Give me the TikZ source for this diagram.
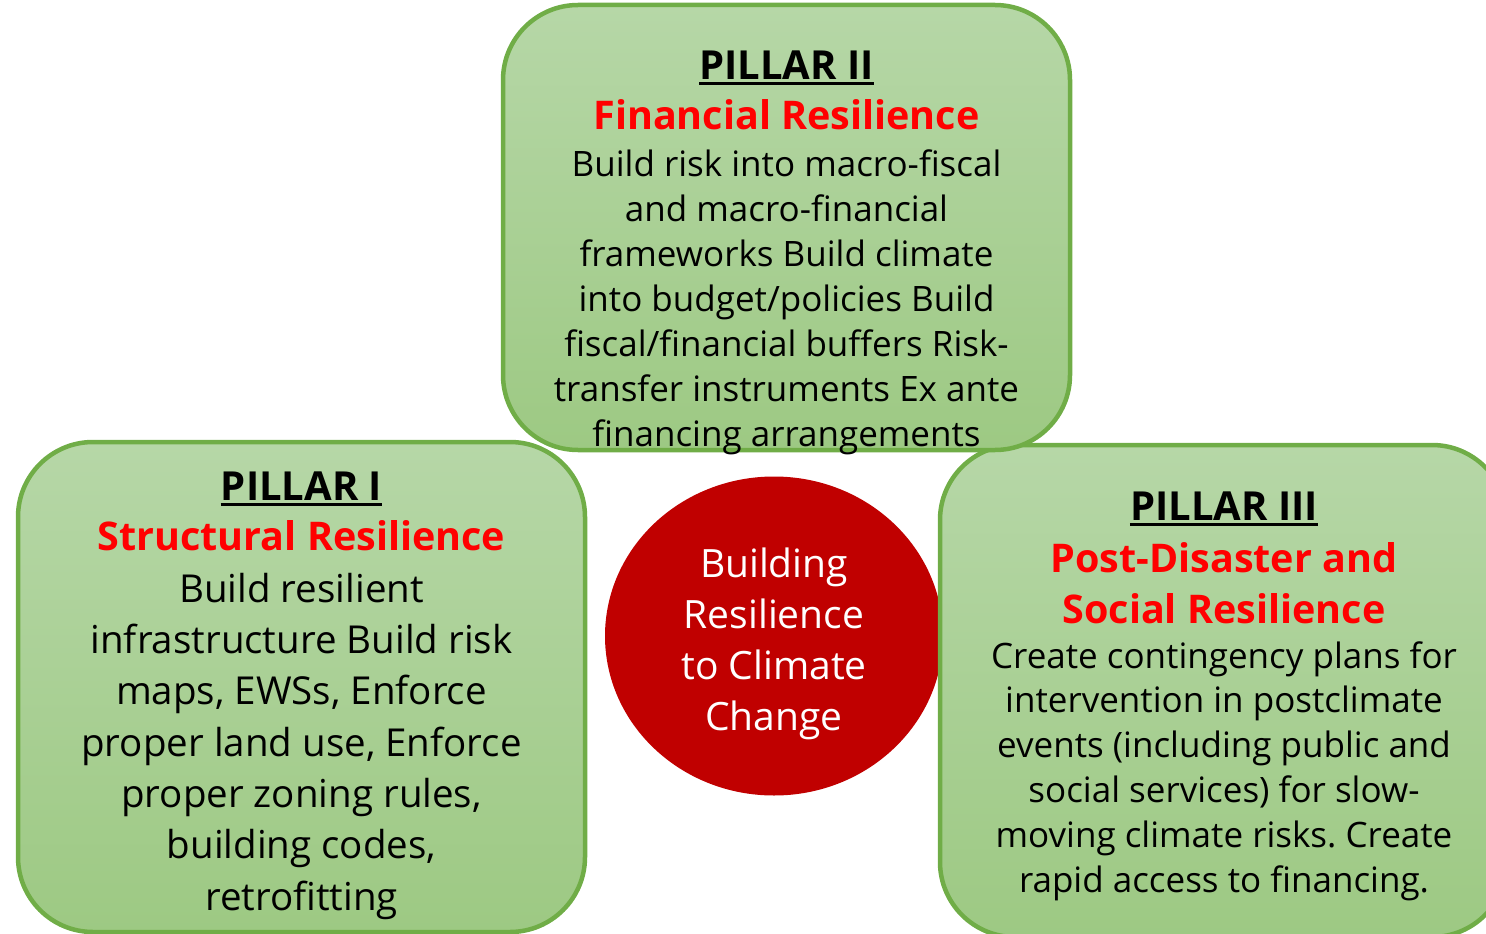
\documentclass[tikz,border=0pt]{standalone}
\usepackage{fontspec}
\setmainfont{Open Sans}
\frenchspacing
\definecolor{pillargreen}{RGB}{112,173,71}
\definecolor{pillartop}{RGB}{182,215,167}
\definecolor{pillarbottom}{RGB}{157,201,131}
\definecolor{coredred}{RGB}{192,0,0}
\definecolor{headred}{RGB}{255,0,0}
\tikzset{
  pillarbox/.style={draw=pillargreen, line width=4.5pt, rounded corners=75pt,
    top color=pillartop, bottom color=pillarbottom,
    minimum width=567pt, inner sep=0pt},
  pillarhead/.style={inner sep=0pt, anchor=base, font=\bfseries\fontsize{40}{47}\selectfont},
  % multi-line nodes: the base anchor sits on the last line
  pillarsub/.style={inner sep=0pt, anchor=base, align=center, text=headred,
    font=\bfseries\fontsize{39.5}{51}\selectfont},
  pillarbody/.style={inner sep=0pt, anchor=base, align=center},
  headline/.style={line width=2.8pt},
  core/.style={ellipse, fill=coredred, minimum width=338pt, minimum height=319pt, inner sep=0pt},
}
\usetikzlibrary{shapes.geometric}
\begin{document}
\begin{tikzpicture}[x=1pt, y=-1pt]
\useasboundingbox (0,0) rectangle (1486,934);

% centre circle
\node[core] (core) at (774,636) {};
\node[inner sep=0pt, anchor=base, align=center, text=white,
      font=\fontsize{39}{51}\selectfont] (coretext) at (774,730)
      {Building\\Resilience\\to Climate\\Change};

% Pillar I
\node[pillarbox, minimum height=490pt] (box1) at (301.5,687) {};
\node[pillarhead] (head1) at (301.5,500) {PILLAR I};
\draw[headline] ([yshift=-4.5pt]head1.base west) -- ([yshift=-4.5pt]head1.base east);
\node[pillarsub] (sub1) at (301.5,550) {Structural Resilience};
\node[pillarbody, font=\fontsize{38.5}{51.3}\selectfont] (body1) at (301.5,910)
  {Build resilient\\infrastructure Build risk\\maps, EWSs, Enforce\\proper land use, Enforce\\proper zoning rules,\\building codes,\\retrofitting};

% Pillar III
\node[pillarbox, minimum height=492pt] (box3) at (1223.5,691) {};
\node[pillarhead] (head3) at (1224,520) {PILLAR III};
\draw[headline] ([yshift=-4.5pt]head3.base west) -- ([yshift=-4.5pt]head3.base east);
\node[pillarsub] (sub3) at (1224,623) {Post-Disaster and\\Social Resilience};
\node[pillarbody, font=\fontsize{35}{44.8}\selectfont] (body3) at (1224,892)
  {Create contingency plans for\\intervention in postclimate\\events (including public and\\social services) for slow-\\moving climate risks. Create\\rapid access to financing.};

% Pillar II
\node[pillarbox, minimum height=445pt] (box2) at (786.5,227.5) {};
\node[pillarhead] (head2) at (786.5,79) {PILLAR II};
\draw[headline] ([yshift=-4.5pt]head2.base west) -- ([yshift=-4.5pt]head2.base east);
\node[pillarsub] (sub2) at (786.5,129) {Financial Resilience};
\node[pillarbody, font=\fontsize{35}{45}\selectfont] (body2) at (786.5,446)
  {Build risk into macro-fiscal\\and macro-financial\\frameworks Build climate\\into budget/policies Build\\fiscal/financial buffers Risk-\\transfer instruments Ex ante\\financing arrangements};
\end{tikzpicture}
\end{document}
